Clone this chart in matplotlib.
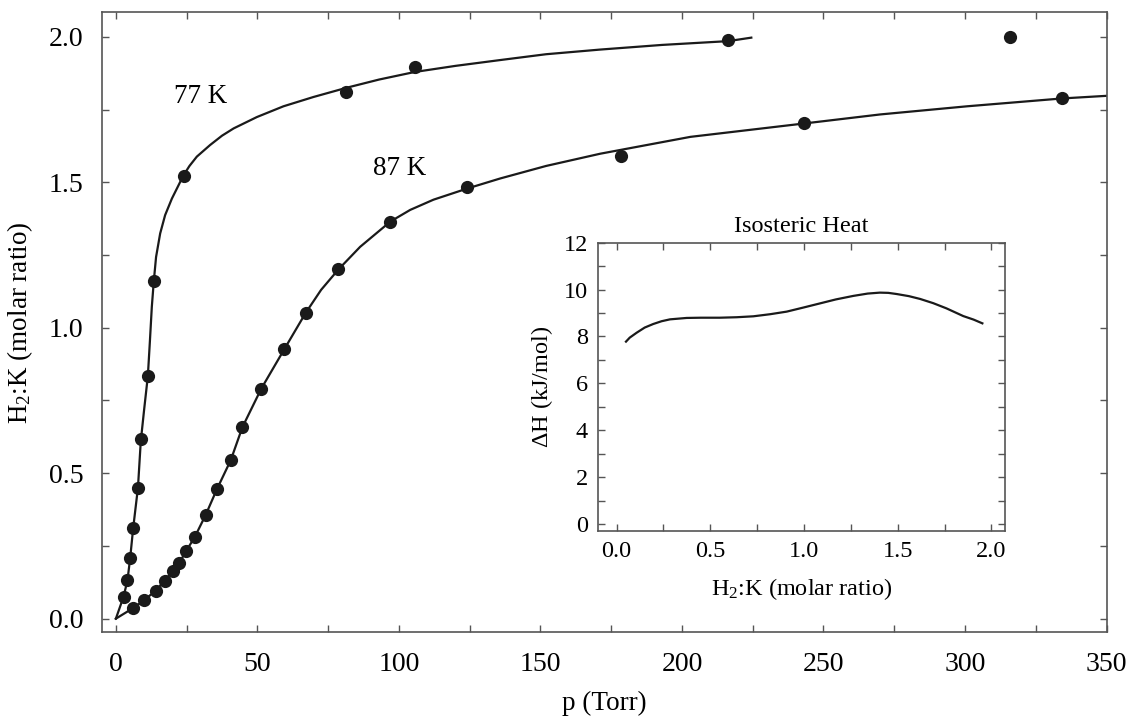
import numpy as np
import matplotlib.pyplot as plt
from matplotlib.ticker import MultipleLocator

plt.rcParams['font.family'] = ['Liberation Serif', 'DejaVu Serif']
plt.rcParams['mathtext.fontset'] = 'custom'
plt.rcParams['mathtext.rm'] = 'Liberation Serif'
plt.rcParams['mathtext.it'] = 'Liberation Serif:italic'

# 77 K isotherm : measured points and fitted curve
p77_pts = [2.7, 4.1, 5.05, 6.1, 7.8, 8.8, 11.3, 13.4, 23.9, 81.4, 105.6, 216.3, 316.0]
r77_pts = [0.075, 0.132, 0.208, 0.31, 0.45, 0.616, 0.834, 1.16, 1.523, 1.81, 1.896, 1.988, 1.998]
p77_fit = [0, 2.7, 4.1, 5.05, 6.1, 7.8, 8.8, 10.0, 11.3, 12.0, 12.7, 13.4, 14.2, 15.65, 17.4, 19.8,
           23.9, 26.0, 28.6, 33.3, 37.5, 41.6, 49.8, 59.2, 69.8, 81.6, 93.0, 105.6, 120.0, 135.8,
           152.0, 171.1, 193.0, 216.3, 224.5]
r77_fit = [0, 0.075, 0.132, 0.208, 0.31, 0.45, 0.61, 0.72, 0.834, 0.95, 1.072, 1.16, 1.243, 1.324,
           1.387, 1.444, 1.524, 1.556, 1.588, 1.628, 1.66, 1.685, 1.724, 1.761, 1.793, 1.825, 1.853,
           1.879, 1.9, 1.92, 1.94, 1.956, 1.972, 1.985, 1.997]

# 87 K isotherm
p87_pts = [6.2, 10.1, 14.0, 17.2, 20.1, 22.4, 24.8, 27.9, 31.7, 35.7, 40.6, 44.7, 51.4,
           59.5, 67.0, 78.6, 97.0, 124.0, 178.3, 243.2, 334.3]
r87_pts = [0.037, 0.064, 0.096, 0.13, 0.164, 0.192, 0.232, 0.281, 0.356, 0.445, 0.545, 0.658, 0.791,
           0.926, 1.051, 1.201, 1.364, 1.482, 1.59, 1.704, 1.788]
p87_fit = [0, 6.2, 10.1, 14.0, 17.2, 20.1, 22.4, 24.8, 27.9, 31.7, 35.7, 40.6, 44.7, 51.4,
           59.5, 67.0, 72.5, 78.6, 86.3, 97.0, 104.0, 112.2, 124.0, 135.8, 152.0, 171.1, 203.0,
           243.2, 270.0, 300.7, 334.3, 350.0]
r87_fit = [0, 0.037, 0.064, 0.096, 0.13, 0.164, 0.192, 0.232, 0.281, 0.356, 0.445, 0.545, 0.658, 0.791,
           0.926, 1.05, 1.13, 1.2, 1.278, 1.365, 1.405, 1.44, 1.478, 1.513, 1.556, 1.598, 1.656,
           1.702, 1.733, 1.761, 1.788, 1.797]

# isosteric heat (inset)
ratio_h = [0.05, 0.07, 0.107, 0.15, 0.195, 0.24, 0.285, 0.374, 0.45, 0.55, 0.64, 0.73, 0.82,
           0.908, 1.0, 1.085, 1.17, 1.263, 1.34, 1.405, 1.45, 1.495, 1.56, 1.62, 1.69, 1.76,
           1.85, 1.905, 1.952]
dH = [7.78, 7.95, 8.16, 8.38, 8.53, 8.65, 8.73, 8.79, 8.80, 8.80, 8.82, 8.86, 8.95,
      9.06, 9.24, 9.41, 9.58, 9.73, 9.83, 9.87, 9.86, 9.81, 9.72, 9.60, 9.42, 9.2,
      8.87, 8.72, 8.56]

INK = '#1a1a1a'
SPINE = '#555555'

fig = plt.figure(figsize=(11.29, 7.17), dpi=100)
ax = fig.add_axes([0.0901, 0.1181, 0.8900, 0.8647])

ax.plot(p77_fit, r77_fit, color=INK, lw=1.6)
ax.plot(p87_fit, r87_fit, color=INK, lw=1.6)
ax.plot(p77_pts, r77_pts, 'o', color=INK, ms=9.5, mec='none')
ax.plot(p87_pts, r87_pts, 'o', color=INK, ms=9.5, mec='none')

ax.text(20.6, 1.795, '77 K', fontsize=19.5, va='center', ha='left')
ax.text(91.0, 1.547, '87 K', fontsize=19.5, va='center', ha='left')

ax.set_xlim(-5, 350)
ax.set_ylim(-0.047, 2.084)
ax.xaxis.set_major_locator(MultipleLocator(50))
ax.xaxis.set_minor_locator(MultipleLocator(25))
ax.yaxis.set_major_locator(MultipleLocator(0.5))
ax.yaxis.set_minor_locator(MultipleLocator(0.25))
ax.yaxis.set_major_formatter(plt.FormatStrFormatter('%.1f'))
ax.tick_params(which='both', direction='in', top=True, right=True,
               length=5, width=1, color=SPINE, labelsize=20)
ax.tick_params(axis='x', pad=14)
ax.tick_params(axis='y', pad=13)
for s in ax.spines.values():
    s.set_color(SPINE)
    s.set_linewidth(1.2)
ax.set_xlabel('p (Torr)', fontsize=19.5, labelpad=10)
ax.set_ylabel(r'H$_\mathrm{2}$:K (molar ratio)', fontsize=19.5, labelpad=10)

# inset
axi = fig.add_axes([0.5294, 0.2594, 0.3608, 0.4021])
axi.plot(ratio_h, dH, color=INK, lw=1.6)
axi.set_xlim(-0.101, 2.073)
axi.set_ylim(-0.3, 12)
axi.xaxis.set_major_locator(MultipleLocator(0.5))
axi.xaxis.set_minor_locator(MultipleLocator(0.25))
axi.yaxis.set_major_locator(MultipleLocator(2))
axi.yaxis.set_minor_locator(MultipleLocator(1))
axi.xaxis.set_major_formatter(plt.FormatStrFormatter('%.1f'))
axi.tick_params(which='both', direction='in', top=True, right=True,
                length=5, width=1, color=SPINE, labelsize=17.5)
axi.tick_params(axis='x', pad=7)
axi.tick_params(axis='y', pad=7)
for s in axi.spines.values():
    s.set_color(SPINE)
    s.set_linewidth(1.2)
axi.set_title('Isosteric Heat', fontsize=17.5, pad=8)
axi.set_xlabel(r'H$_\mathrm{2}$:K (molar ratio)', fontsize=17.5, labelpad=10)
axi.set_ylabel(r'$\Delta$H (kJ/mol)', fontsize=17.5, labelpad=6)

fig.savefig('out.png', dpi=100)
